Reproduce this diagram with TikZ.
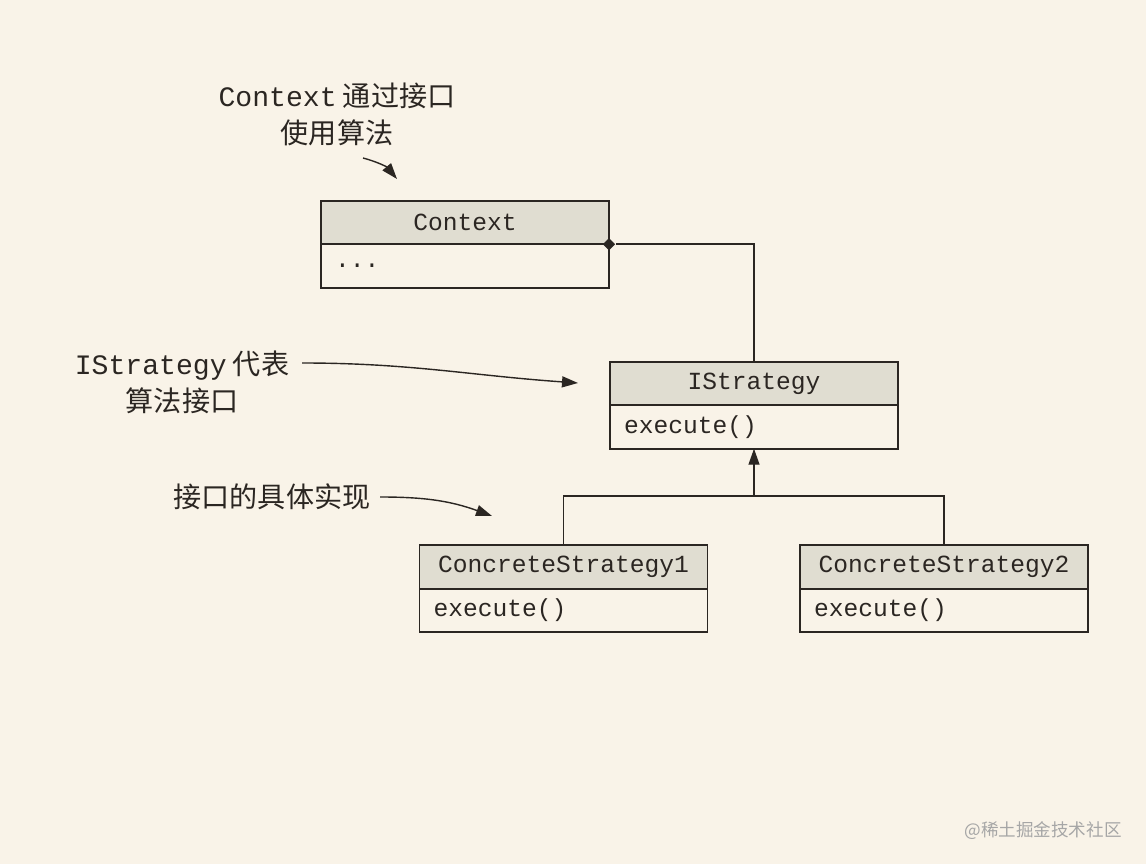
\documentclass[tikz,border=0pt]{standalone}
\usepackage{fontspec}
\setmainfont{Noto Sans CJK SC}
\setmonofont{Liberation Mono}
\usetikzlibrary{arrows.meta,shapes.geometric}
\definecolor{paper}{HTML}{F9F3E8}
\definecolor{headfill}{HTML}{E0DDD1}
\definecolor{ink}{HTML}{2B2622}

\begin{document}
\begin{tikzpicture}[
        x=0.02cm, y=-0.02cm,
        color=ink, line width=1pt,
        umlhead/.style={rectangle, draw, fill=headfill, outer sep=0pt, minimum width=5.76cm, minimum height=0.87cm, font=\ttfamily\fontsize{14}{17}\selectfont},
        umlbody/.style={rectangle, draw, outer sep=0pt, anchor=north, minimum height=0.87cm, text width=5.2cm, inner xsep=0.28cm, align=left, font=\ttfamily\fontsize{14}{17}\selectfont},
        note/.style={align=center, font=\fontsize{16}{21}\selectfont},
        arrow/.style={-{Triangle[length=0.32cm, width=0.22cm]}, line width=0.8pt}
    ]
        % Background
        \fill[paper] (0,0) rectangle (1146,864);
        \useasboundingbox (0,0) rectangle (1146,864);

        % Context
        \node[umlhead] (ctxhead) at (465,222.5) {Context};
        \node[umlbody] (ctxbody) at (ctxhead.south) {...};

        % IStrategy
        \node[umlhead] (istrhead) at (754,383.5) {IStrategy};
        \node[umlbody] (istrbody) at (istrhead.south) {execute()};

        % Concrete strategies
        \node[umlhead] (cs1head) at (563.5,567) {ConcreteStrategy1};
        \node[umlbody] (cs1body) at (cs1head.south) {execute()};
        \node[umlhead] (cs2head) at (944,567) {ConcreteStrategy2};
        \node[umlbody] (cs2body) at (cs2head.south) {execute()};

        % Aggregation
        \node[diamond, fill, inner sep=0pt, minimum size=0.26cm] (agg) at (ctxhead.south east) {};
        \draw (agg) -| (istrhead.north);

        % Realisation
        \coordinate (fork) at (754,496);
        \draw (cs1head.north) |- (fork) -| (cs2head.north);
        \draw[arrow] (fork) -- (istrbody.south);

        % Notes
        \node[note] (ctxnote) at (337,114) {{\ttfamily Context} 通过接口\\使用算法};
        \coordinate (ctxfrom) at (363,158);
        \coordinate (ctxtip) at (397,179);
        \draw[arrow] (ctxfrom) to[out=-15, in=130] (ctxtip);

        \node[note] (istrnote) at (182,382) {{\ttfamily IStrategy} 代表\\算法接口};
        \coordinate (istrfrom) at (302,363);
        \coordinate (istrtip) at (578,383);
        \draw[arrow] (istrfrom) to[out=0, in=176] (istrtip);

        \node[note] (implnote) at (272,497) {接口的具体实现};
        \coordinate (implfrom) at (380,497);
        \coordinate (impltip) at (492,516);
        \draw[arrow] (implfrom) to[out=0, in=160] (impltip);

        % Watermark
        \node[font=\fontsize{10}{12}\selectfont, text=gray!70] (mark) at (1043,831) {@稀土掘金技术社区};

    \end{tikzpicture}
\end{document}
